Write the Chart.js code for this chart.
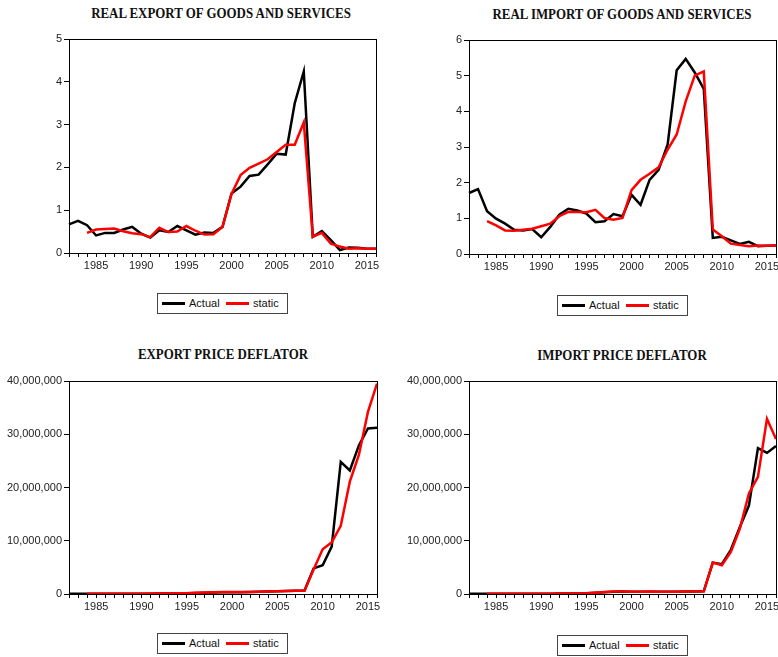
<!DOCTYPE html>
<html>
<head>
<meta charset="utf-8">
<script src="https://cdn.jsdelivr.net/npm/chart.js@4"></script>
<style>
body{margin:0;background:#fff;width:778px;height:657px;overflow:hidden;position:relative;font-family:"Liberation Sans",Arial,sans-serif}
canvas{position:absolute}
.title{position:absolute;font:bold 15px "Liberation Serif","Times New Roman",serif;white-space:nowrap;transform:translate(-50%,-50%) scaleX(0.86);color:#111}
.legend{position:absolute;width:129px;height:19px;border:1px solid #444;font-size:11px;color:#111}
.legend span{position:absolute;top:2px;line-height:15px}
.legend i{position:absolute;top:8px;width:23px;height:3px}
</style>
</head>
<body>

<div class="title" style="left:221px;top:13px">REAL EXPORT OF GOODS AND SERVICES</div>
<div class="title" style="left:622px;top:14px">REAL IMPORT OF GOODS AND SERVICES</div>
<div class="title" style="left:223px;top:354px">EXPORT PRICE DEFLATOR</div>
<div class="title" style="left:622px;top:355px">IMPORT PRICE DEFLATOR</div>

<canvas id="c1"></canvas>
<canvas id="c2"></canvas>
<canvas id="c3"></canvas>
<canvas id="c4"></canvas>

<div class="legend" style="left:157px;top:293px"><i style="left:4px;background:#000"></i><span style="left:31px">Actual</span><i style="left:68px;background:#f00"></i><span style="left:95px">static</span></div>
<div class="legend" style="left:557px;top:295px"><i style="left:4px;background:#000"></i><span style="left:31px">Actual</span><i style="left:68px;background:#f00"></i><span style="left:95px">static</span></div>
<div class="legend" style="left:157px;top:633px"><i style="left:4px;background:#000"></i><span style="left:31px">Actual</span><i style="left:68px;background:#f00"></i><span style="left:95px">static</span></div>
<div class="legend" style="left:557px;top:635px"><i style="left:4px;background:#000"></i><span style="left:31px">Actual</span><i style="left:68px;background:#f00"></i><span style="left:95px">static</span></div>

<script>
let years = [1982,1983,1984,1985,1986,1987,1988,1989,1990,1991,1992,1993,1994,1995,1996,1997,1998,1999,
  2000,2001,2002,2003,2004,2005,2006,2007,2008,2009,2010,2011,2012,2013,2014,2015,2016]

let exportActual = [0.67,0.75,0.65,0.41,0.47,0.47,0.55,0.61,0.45,0.36,0.53,0.49,0.63,0.53,0.43,0.48,0.47,0.61,
  1.39,1.55,1.80,1.83,2.07,2.32,2.30,3.50,4.24,0.38,0.51,0.30,0.07,0.13,0.12,0.10,0.10]
let exportStatic = [null,null,0.47,0.55,0.56,0.57,0.51,0.46,0.44,0.37,0.59,0.49,0.50,0.63,0.52,0.43,0.44,0.61,
  1.38,1.82,1.99,2.09,2.19,2.36,2.53,2.53,3.05,0.38,0.47,0.22,0.15,0.10,0.11,0.10,0.10]

let importActual = [1.71,1.82,1.20,0.99,0.85,0.68,0.66,0.70,0.47,0.76,1.10,1.27,1.22,1.13,0.89,0.92,1.12,1.06,
  1.66,1.38,2.08,2.36,3.07,5.15,5.47,5.09,4.63,0.45,0.48,0.38,0.28,0.34,0.22,0.23,0.24]
let importStatic = [null,null,0.92,0.80,0.66,0.65,0.68,0.71,0.78,0.85,1.06,1.18,1.18,1.17,1.24,1.01,0.96,1.01,
  1.79,2.08,2.25,2.43,2.93,3.35,4.28,5.00,5.12,0.69,0.50,0.29,0.25,0.22,0.24,0.23,0.24]

let expDeflActual = [50000,50000,40000,40000,50000,50000,50000,60000,60000,70000,80000,90000,100000,
  150000,200000,250000,300000,350000,350000,350000,380000,400000,450000,500000,550000,600000,650000,
  4800000,5400000,8900000,24800000,23200000,27900000,31100000,31200000]
let expDeflStatic = [null,null,40000,50000,50000,50000,60000,60000,70000,80000,90000,100000,120000,
  160000,220000,270000,320000,360000,370000,370000,390000,420000,470000,520000,560000,600000,620000,
  4600000,8400000,9700000,12800000,21100000,26100000,34200000,39500000]

let impDeflActual = [60000,60000,50000,50000,50000,60000,60000,60000,70000,70000,80000,90000,100000,
  150000,250000,350000,420000,450000,420000,420000,440000,420000,420000,430000,450000,470000,500000,
  5900000,5600000,8300000,12600000,16600000,27400000,26500000,27800000]
let impDeflStatic = [null,null,50000,50000,50000,60000,60000,60000,70000,70000,80000,90000,100000,
  120000,250000,380000,450000,480000,440000,440000,460000,440000,430000,440000,460000,480000,500000,
  5900000,5400000,7900000,12300000,18900000,22000000,32900000,29100000]

let frame = {
  id: 'frame',
  afterDraw(chart) {
    let a = chart.chartArea, ctx = chart.ctx
    ctx.save()
    ctx.strokeStyle = '#000'
    ctx.lineWidth = 1
    ctx.strokeRect(Math.round(a.left) + 0.5, Math.round(a.top) + 0.5, Math.round(a.right - a.left), Math.round(a.bottom - a.top))
    ctx.restore()
  }
}

let tickFont = {family: '"Liberation Sans", Arial, sans-serif', size: 11}

function panel(id, plot, actual, statik, yMax, yStep) {
  let cv = document.getElementById(id)
  let left = plot.l - 69
  let right = Math.min(plot.r + 14, 778)
  let top = plot.t - 14
  cv.width = right - left
  cv.height = plot.b + 30 - top
  cv.style.left = left + 'px'
  cv.style.top = top + 'px'

  return new Chart(cv.getContext('2d'), {
    type: 'line',
    data: {
      labels: years,
      datasets: [
        {label: 'Actual', data: actual, borderColor: '#000', borderWidth: 2.5, pointRadius: 0, tension: 0, order: 1},
        {label: 'static', data: statik, borderColor: '#f00', borderWidth: 2.5, pointRadius: 0, tension: 0, order: 0}
      ]
    },
    options: {
      responsive: false,
      animation: false,
      layout: {padding: {top: 14, right: right - plot.r, bottom: 0, left: 0}},
      plugins: {legend: {display: false}, title: {display: false}, tooltip: {enabled: false}},
      scales: {
        x: {
          grid: {drawOnChartArea: false, drawTicks: true, tickLength: 4, color: '#000'},
          border: {display: true, color: '#000'},
          ticks: {
            autoSkip: false, maxRotation: 0, minRotation: 0, padding: 2, color: '#222', font: tickFont,
            callback: (v, i) => years[i] % 5 === 0 ? String(years[i]) : ''
          },
          afterFit: s => { s.height = 30 }
        },
        y: {
          min: 0, max: yMax,
          grid: {drawOnChartArea: false, drawTicks: true, tickLength: 5, color: '#000'},
          border: {display: true, color: '#000'},
          ticks: {stepSize: yStep, padding: 2, color: '#222', font: tickFont,
            callback: v => v.toLocaleString('en-US')},
          afterFit: s => { s.width = 69 }
        }
      }
    },
    plugins: [frame]
  })
}

panel('c1', {l: 69, t: 39, r: 376, b: 253}, exportActual, exportStatic, 5, 1)
panel('c2', {l: 469, t: 40, r: 777, b: 254}, importActual, importStatic, 6, 1)
panel('c3', {l: 69, t: 381, r: 377, b: 594}, expDeflActual, expDeflStatic, 40000000, 10000000)
panel('c4', {l: 469, t: 381, r: 776, b: 594}, impDeflActual, impDeflStatic, 40000000, 10000000)
</script>
</body>
</html>
